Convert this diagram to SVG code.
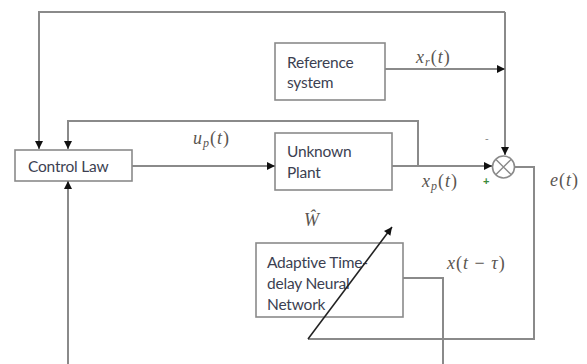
<svg xmlns="http://www.w3.org/2000/svg" width="587" height="364" viewBox="0 0 587 364">
  <defs>
    <marker id="arrow" viewBox="0 0 10 10" refX="10" refY="5" markerWidth="9" markerHeight="8" markerUnits="userSpaceOnUse" orient="auto">
      <path d="M0,0 L10,5 L0,10 z" fill="#111"/>
    </marker>
    <style>
      .box { fill: #fff; stroke: #8a8a8a; stroke-width: 1.6; }
      .wire { fill: none; stroke: #8a8a8a; stroke-width: 2; }
      .dark { fill: none; stroke: #222; stroke-width: 1.6; }
      .label { font-family: Lato, "Open Sans", sans-serif; font-size: 15.5px; fill: #3c3f52; letter-spacing: -0.2px; }
      .math { font-family: "Liberation Serif", "DejaVu Serif", serif; font-size: 18px; fill: #5a5550; letter-spacing: 1px; }
      .math .v { font-style: italic; }
      .sub { font-size: 12px; font-style: italic; }
    </style>
  </defs>
  <rect width="587" height="364" fill="#fff"/>

  <!-- nodes -->
  <g id="reference-system">
    <rect class="box" x="275" y="43" width="110" height="57"/>
    <text class="label" x="287" y="68">Reference</text>
    <text class="label" x="287" y="88">system</text>
  </g>
  <g id="control-law">
    <rect class="box" x="15" y="150" width="117" height="31"/>
    <text class="label" x="28" y="172">Control Law</text>
  </g>
  <g id="unknown-plant">
    <rect class="box" x="275" y="133" width="117" height="57"/>
    <text class="label" x="287" y="157">Unknown</text>
    <text class="label" x="287" y="178">Plant</text>
  </g>
  <g id="adaptive-network">
    <rect class="box" x="256" y="243" width="147" height="74"/>
    <text class="label" x="267" y="268">Adaptive Time-</text>
    <text class="label" x="267" y="289">delay Neural</text>
    <text class="label" x="267" y="310">Network</text>
  </g>
  <g id="summing-junction">
    <circle cx="503.5" cy="167" r="11" fill="#fff" stroke="#8a8a8a" stroke-width="1.6"/>
    <path d="M495.7,159.2 L511.3,174.8 M511.3,159.2 L495.7,174.8" stroke="#8a8a8a" stroke-width="1.4"/>
  </g>

  <!-- connectors -->
  <g id="connectors">
    <!-- outer loop from reference branch to control law -->
    <path class="wire" d="M505,12 L39,12 L39,149" marker-end="url(#arrow)"/>
    <path class="wire" d="M505,12 L505,155" marker-end="url(#arrow)"/>
    <!-- reference output -->
    <path class="wire" d="M385,69 L505,69" marker-end="url(#arrow)"/>
    <!-- control input -->
    <path class="wire" d="M132,166 L275,166" marker-end="url(#arrow)"/>
    <!-- plant output to summing junction -->
    <path class="wire" d="M392,166 L492,166" marker-end="url(#arrow)"/>
    <!-- plant state feedback -->
    <path class="wire" d="M418,166 L418,121 L68,121 L68,149" marker-end="url(#arrow)"/>
    <!-- error path to weight adaptation -->
    <path class="wire" d="M515,167 L534,167 L534,339 L308,339"/>
    <!-- adaptation arrow across the network -->
    <path class="dark" d="M308,339 L392,227" marker-end="url(#arrow)"/>
    <!-- delayed state output -->
    <path class="wire" d="M403,278 L443,278 L443,364"/>
    <!-- network output to control law -->
    <path class="wire" d="M68,364 L68,181" marker-end="url(#arrow)"/>
  </g>

  <!-- signal labels -->
  <g id="labels">
    <text class="math" x="416" y="63"><tspan class="v">x</tspan><tspan class="sub" dy="3">r</tspan><tspan dy="-3">(</tspan><tspan class="v">t</tspan>)</text>
    <text class="math" x="193" y="144"><tspan class="v">u</tspan><tspan class="sub" dy="3">p</tspan><tspan dy="-3">(</tspan><tspan class="v">t</tspan>)</text>
    <text class="math" x="422" y="187"><tspan class="v">x</tspan><tspan class="sub" dy="3">p</tspan><tspan dy="-3">(</tspan><tspan class="v">t</tspan>)</text>
    <text class="math" x="550" y="186"><tspan class="v">e</tspan>(<tspan class="v">t</tspan>)</text>
    <text class="math" x="304" y="226"><tspan class="v">Ŵ</tspan></text>
    <text class="math" x="447" y="269"><tspan class="v">x</tspan>(<tspan class="v">t</tspan> − <tspan class="v">τ</tspan>)</text>
    <text x="485" y="142" font-family="Liberation Sans, sans-serif" font-size="11px" fill="#888">-</text>
    <text x="483" y="185" font-family="Liberation Sans, sans-serif" font-size="11px" font-weight="bold" fill="#3a8a3a">+</text>
  </g>
</svg>
